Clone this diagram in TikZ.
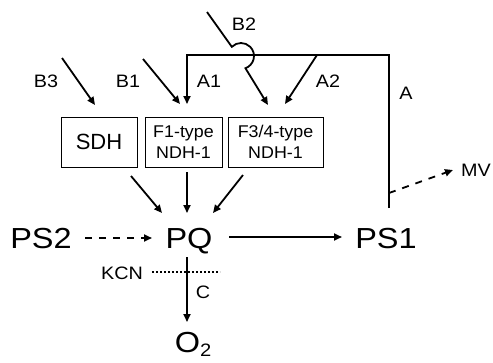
\documentclass[tikz,border=0pt]{standalone}
\usepackage{graphicx}
\usepackage{fontspec}
\setmainfont{Liberation Sans}
\usetikzlibrary{arrows.meta}
\newcommand\wbig[1]{\scalebox{1.12}[1]{#1}}
\newcommand\wlab[1]{\scalebox{1.1}[1]{#1}}
\newcommand\wbox[1]{\scalebox{1.05}[1]{#1}}
\begin{document}
\begin{tikzpicture}[x=1pt,y=-1pt,
  ln/.style={line width=1.8pt},
  arr/.style={ln,-{Triangle[length=8pt,width=7pt]}},
  dsh/.style={dash pattern=on 7pt off 7pt},
  box/.style={draw,line width=0.8pt,minimum height=50pt,inner sep=0pt,align=center,font=\fontsize{17}{21}\selectfont},
  big/.style={font=\fontsize{29}{30}\selectfont,inner sep=0pt,anchor=base},
  lab/.style={font=\fontsize{18}{20}\selectfont,inner sep=0pt}]
\useasboundingbox (0,0) rectangle (493,362);
% boxes
\node[box,minimum width=76pt,font=\fontsize{22}{24}\selectfont] (sdh) at (99,142) {SDH};
\node[box,minimum width=77pt] (f1) at (183.5,142) {\wbox{F1-type}\\\wbox{NDH-1}};
\node[box,minimum width=95pt] (f3) at (275.5,142) {\wbox{F3/4-type}\\\wbox{NDH-1}};
% main nodes
\node[big] (pq) at (189,248) {\wbig{PQ}};
\node[big] (ps2) at (41,248) {\wbig{PS2}};
\node[big] (ps1) at (386,248) {\wbig{PS1}};
\node[big] (o2) at (193,352) {\wbig{O\raisebox{-4pt}{\fontsize{18}{18}\selectfont 2}}};
% labels
\node[lab] (lb3) at (46,81) {\wlab{B3}};
\node[lab] (lb1) at (128,81) {\wlab{B1}};
\node[lab] (la1) at (209,81) {\wlab{A1}};
\node[lab] (la2) at (328,81) {\wlab{A2}};
\node[lab] (lb2) at (244,24) {\wlab{B2}};
\node[lab] (la) at (406,93) {\wlab{A}};
\node[lab] (mv) at (476,170) {\wlab{MV}};
\node[lab] (kcn) at (122,273) {\wlab{KCN}};
\node[lab] (lc) at (203,292) {\wlab{C}};
% coordinates
\coordinate (b3s) at (62,58);   \coordinate (b3e) at (95,105);
\coordinate (b1s) at (143,59);  \coordinate (b1e) at (180,104);
\coordinate (b2s) at (207,12);  \coordinate (b2a) at (231.8,46.8); \coordinate (b2e) at (268,105);
\coordinate (ps1top) at (389,208); \coordinate (tr) at (389,55); \coordinate (tl) at (187,55);
\coordinate (a1e) at (187,104);
\coordinate (a2s) at (317,55);  \coordinate (a2e) at (285,104);
\coordinate (mvs) at (389,193); \coordinate (mve) at (453,170);
\coordinate (s1) at (131,176);  \coordinate (e1) at (162,213);
\coordinate (s2) at (187,172);  \coordinate (e2) at (187,213);
\coordinate (s3) at (243,175);  \coordinate (e3) at (213,213);
\coordinate (ps2e) at (85,238); \coordinate (pqw) at (152,238);
\coordinate (pqe) at (229,237); \coordinate (ps1w) at (342,237);
\coordinate (pqs) at (187,257); \coordinate (o2n) at (187,322);
\coordinate (kl) at (152,272);  \coordinate (kr) at (220,272);
% arrows
\draw[arr] (b3s) -- (b3e);
\draw[arr] (b1s) -- (b1e);
\draw[arr] (ps1top) -- (tr) -- (tl) -- (a1e);
\draw[arr] (a2s) -- (a2e);
\draw[arr] (b2s) -- (b2a) arc[start angle=225,end angle=430,radius=13] -- (b2e);
\draw[arr,dsh] (mvs) -- (mve);
\draw[arr] (s1) -- (e1);
\draw[arr] (s2) -- (e2);
\draw[arr] (s3) -- (e3);
\draw[arr,dsh] (ps2e) -- (pqw);
\draw[arr] (pqe) -- (ps1w);
\draw[arr] (pqs) -- (o2n);
\draw[line width=2pt,dash pattern=on 2pt off 2pt] (kl) -- (kr);
\end{tikzpicture}
\end{document}
